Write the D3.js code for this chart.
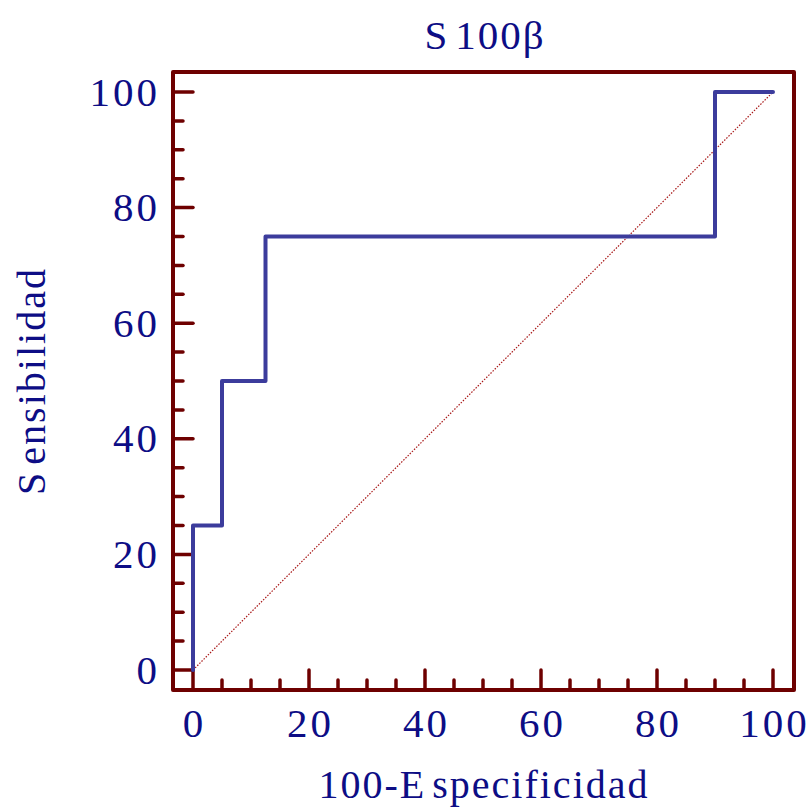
<!DOCTYPE html>
<html><head><meta charset="utf-8">
<script src="https://cdn.jsdelivr.net/npm/d3@7"></script>
<style>body{margin:0;background:#fff}</style>
</head><body>
<script>
const rocX = [0, 0, 5, 5, 12.5, 12.5, 90, 90, 100];
const rocY = [0, 25, 25, 50, 50, 75, 75, 100, 100];
const majorTicks = [0, 20, 40, 60, 80, 100];
const minorTicks = d3.range(0, 101, 5);

const W = 811, H = 810;
const svg = d3.select("body").append("svg").attr("width", W).attr("height", H);
const x = d3.scaleLinear().domain([0, 100]).range([193, 773]);
const y = d3.scaleLinear().domain([0, 100]).range([670, 92]);
const box = {l: 173, r: 794, t: 72, b: 690};
const frame = "#6e0000", navy = "#0d0d85", blue = "#3c3c9c";
const font = "'Liberation Serif', 'DejaVu Serif', serif";

// diagonal
svg.append("line").attr("x1", x(0)).attr("y1", y(0)).attr("x2", x(100)).attr("y2", y(100))
  .attr("stroke", "#a81818").attr("stroke-width", 1.2).attr("stroke-dasharray", "1.5,1.5");

// ticks
minorTicks.forEach(t => {
  const len = majorTicks.includes(t) ? 20 : 10;
  svg.append("line").attr("x1", box.l).attr("x2", box.l + len).attr("y1", y(t)).attr("y2", y(t))
    .attr("stroke", frame).attr("stroke-width", 3.5).attr("stroke-linecap", "round");
  svg.append("line").attr("y1", box.b).attr("y2", box.b - len).attr("x1", x(t)).attr("x2", x(t))
    .attr("stroke", frame).attr("stroke-width", 3.5).attr("stroke-linecap", "round");
});

// ROC line
const pts = rocX.map((v, i) => [v, rocY[i]]);
svg.append("path").attr("d", d3.line().x(d => x(d[0])).y(d => y(d[1]))(pts))
  .attr("fill", "none").attr("stroke", blue).attr("stroke-width", 4).attr("stroke-linecap", "round").attr("stroke-linejoin", "round");

// frame
svg.append("rect").attr("x", box.l).attr("y", box.t).attr("width", box.r - box.l).attr("height", box.b - box.t)
  .attr("fill", "none").attr("stroke", frame).attr("stroke-width", 4).attr("stroke-linejoin", "round");

// tick labels
majorTicks.forEach(t => {
  svg.append("text").attr("x", 160).attr("y", y(t)).attr("dy", "0.33em").attr("text-anchor", "end")
    .attr("font-family", font).attr("font-size", 41).attr("letter-spacing", 3).attr("fill", navy).text(t);
  svg.append("text").attr("x", x(t) + 1.5).attr("y", 737).attr("text-anchor", "middle")
    .attr("font-family", font).attr("font-size", 41).attr("letter-spacing", 3).attr("fill", navy).text(t);
});

// title
const title = svg.append("text").attr("x", 485).attr("y", 49).attr("text-anchor", "middle")
  .attr("font-family", font).attr("font-size", 41).attr("letter-spacing", 2).attr("fill", navy);
title.append("tspan").text("S");
title.append("tspan").attr("dx", 6).text("100β");

// x label
const xl = svg.append("text").attr("x", 484).attr("y", 798).attr("text-anchor", "middle")
  .attr("font-family", font).attr("font-size", 40).attr("letter-spacing", 2).attr("fill", navy);
xl.append("tspan").text("100-E");
xl.append("tspan").attr("dx", 6).text("specificidad");

// y label
const yl = svg.append("text").attr("transform", "translate(45,381) rotate(-90)").attr("text-anchor", "middle")
  .attr("font-family", font).attr("font-size", 40).attr("letter-spacing", 2).attr("fill", navy);
yl.append("tspan").text("S");
yl.append("tspan").attr("dx", 6).text("ensibilidad");
</script>
</body></html>
